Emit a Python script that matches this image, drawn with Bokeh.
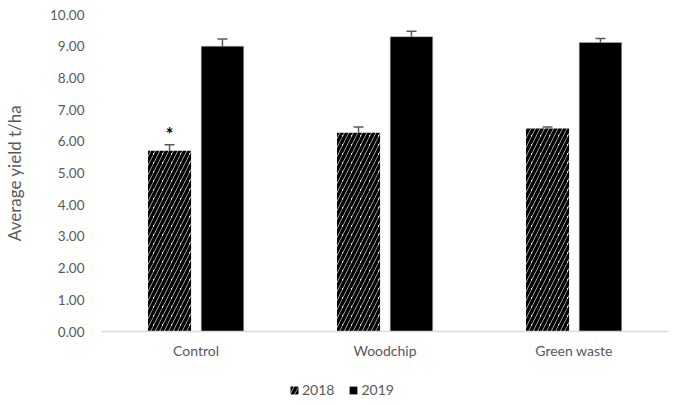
from bokeh.plotting import figure
from bokeh.layouts import column
from bokeh.models import (ColumnDataSource, FactorRange, Range1d, Whisker, Legend,
                          LegendItem, FixedTicker, NumeralTickFormatter)
from bokeh.transform import dodge
from bokeh.core.properties import value
from bokeh.embed import file_html
from bokeh.resources import INLINE

categories = ["Control", "Woodchip", "Green waste"]
yield_2018 = [5.70, 6.27, 6.40]
err_2018 = [0.19, 0.18, 0.05]
yield_2019 = [9.00, 9.30, 9.12]
err_2019 = [0.23, 0.17, 0.12]
sig_2018 = ["*", "", ""]
series_labels = ["2018", "2019"]
y_ticks = [0, 1, 2, 3, 4, 5, 6, 7, 8, 9, 10]

src = ColumnDataSource(dict(
    cat=categories,
    y18=yield_2018,
    y19=yield_2019,
    lo18=[v - e for v, e in zip(yield_2018, err_2018)],
    hi18=[v + e for v, e in zip(yield_2018, err_2018)],
    lo19=[v - e for v, e in zip(yield_2019, err_2019)],
    hi19=[v + e for v, e in zip(yield_2019, err_2019)],
    sig=sig_2018,
))

FONT = "Lato"
GREY = "#595959"
HATCH = dict(fill_color="white", hatch_pattern="/", hatch_color="black",
             hatch_scale=9, hatch_weight=3.5, line_color=None)
SOLID = dict(fill_color="black", line_color="#bfbfbf", line_width=0.5)

p = figure(x_range=FactorRange(*categories, range_padding=0), y_range=Range1d(0, 10),
           width=670, height=365, output_backend="svg", toolbar_location=None,
           min_border_left=89, min_border_right=2, min_border_top=14, min_border_bottom=34)
p.outline_line_color = None
p.xgrid.visible = False
p.ygrid.visible = False

p.vbar(x=dodge('cat', -0.14, range=p.x_range), top='y18', width=0.228, source=src, **HATCH)
p.vbar(x=dodge('cat', 0.14, range=p.x_range), top='y19', width=0.225, source=src, **SOLID)

for base_off, lo, hi in [(-0.14, 'lo18', 'hi18'), (0.14, 'lo19', 'hi19')]:
    w = Whisker(source=src, base=dodge('cat', base_off, range=p.x_range), lower=lo, upper=hi,
                line_color=GREY, line_width=1.5)
    for head in (w.upper_head, w.lower_head):
        head.line_color = GREY
        head.line_width = 1.5
        head.size = 10
    p.add_layout(w)

p.text(x=dodge('cat', -0.14, range=p.x_range), y='hi18', text='sig', source=src,
       text_font=value(FONT), text_font_size="18px", text_font_style="bold",
       text_align="center", text_baseline="bottom", y_offset=0, text_color="black")

p.yaxis.ticker = FixedTicker(ticks=y_ticks)
p.yaxis.formatter = NumeralTickFormatter(format="0.00")
p.yaxis.axis_line_color = None
p.yaxis.major_tick_line_color = None
p.yaxis.minor_tick_line_color = None
p.yaxis.major_label_text_font = FONT
p.yaxis.major_label_text_font_size = "13.5px"
p.yaxis.major_label_text_color = GREY
p.yaxis.major_label_standoff = 11
p.yaxis.axis_label = "Average yield t/ha"
p.yaxis.axis_label_text_font = FONT
p.yaxis.axis_label_text_font_size = "17px"
p.yaxis.axis_label_text_font_style = "normal"
p.yaxis.axis_label_text_color = GREY
p.yaxis.axis_label_standoff = 22

p.xaxis.axis_line_color = "#d9d9d9"
p.xaxis.axis_line_width = 1.5
p.xaxis.major_tick_line_color = None
p.xaxis.minor_tick_line_color = None
p.xaxis.major_label_text_font = FONT
p.xaxis.major_label_text_font_size = "14px"
p.xaxis.major_label_text_color = GREY
p.xaxis.major_label_standoff = 4

# legend strip below the chart (series swatches drawn from the same data, out of view)
lg = figure(x_range=FactorRange(*categories, range_padding=0), y_range=Range1d(50, 51),
            width=670, height=40, output_backend="svg", toolbar_location=None,
            min_border=0, x_axis_location=None, y_axis_location=None)
lg.outline_line_color = None
lg.xgrid.visible = False
lg.ygrid.visible = False
l18 = lg.vbar(x='cat', top='y18', width=0.2, source=src, **HATCH)
l19 = lg.vbar(x='cat', top='y19', width=0.2, source=src, **SOLID)

legend = Legend(items=[LegendItem(label=series_labels[0], renderers=[l18]),
                       LegendItem(label=series_labels[1], renderers=[l19])],
                orientation="horizontal", location=(188, 7),
                glyph_width=10, glyph_height=10, label_standoff=3, spacing=14,
                padding=0, margin=0, border_line_color=None, background_fill_alpha=0,
                label_text_font=FONT, label_text_font_size="14px", label_text_color=GREY,
                label_height=12)
lg.add_layout(legend, "center")

layout = column(p, lg, spacing=0)
open("out.html", "w").write(file_html(layout, INLINE))
